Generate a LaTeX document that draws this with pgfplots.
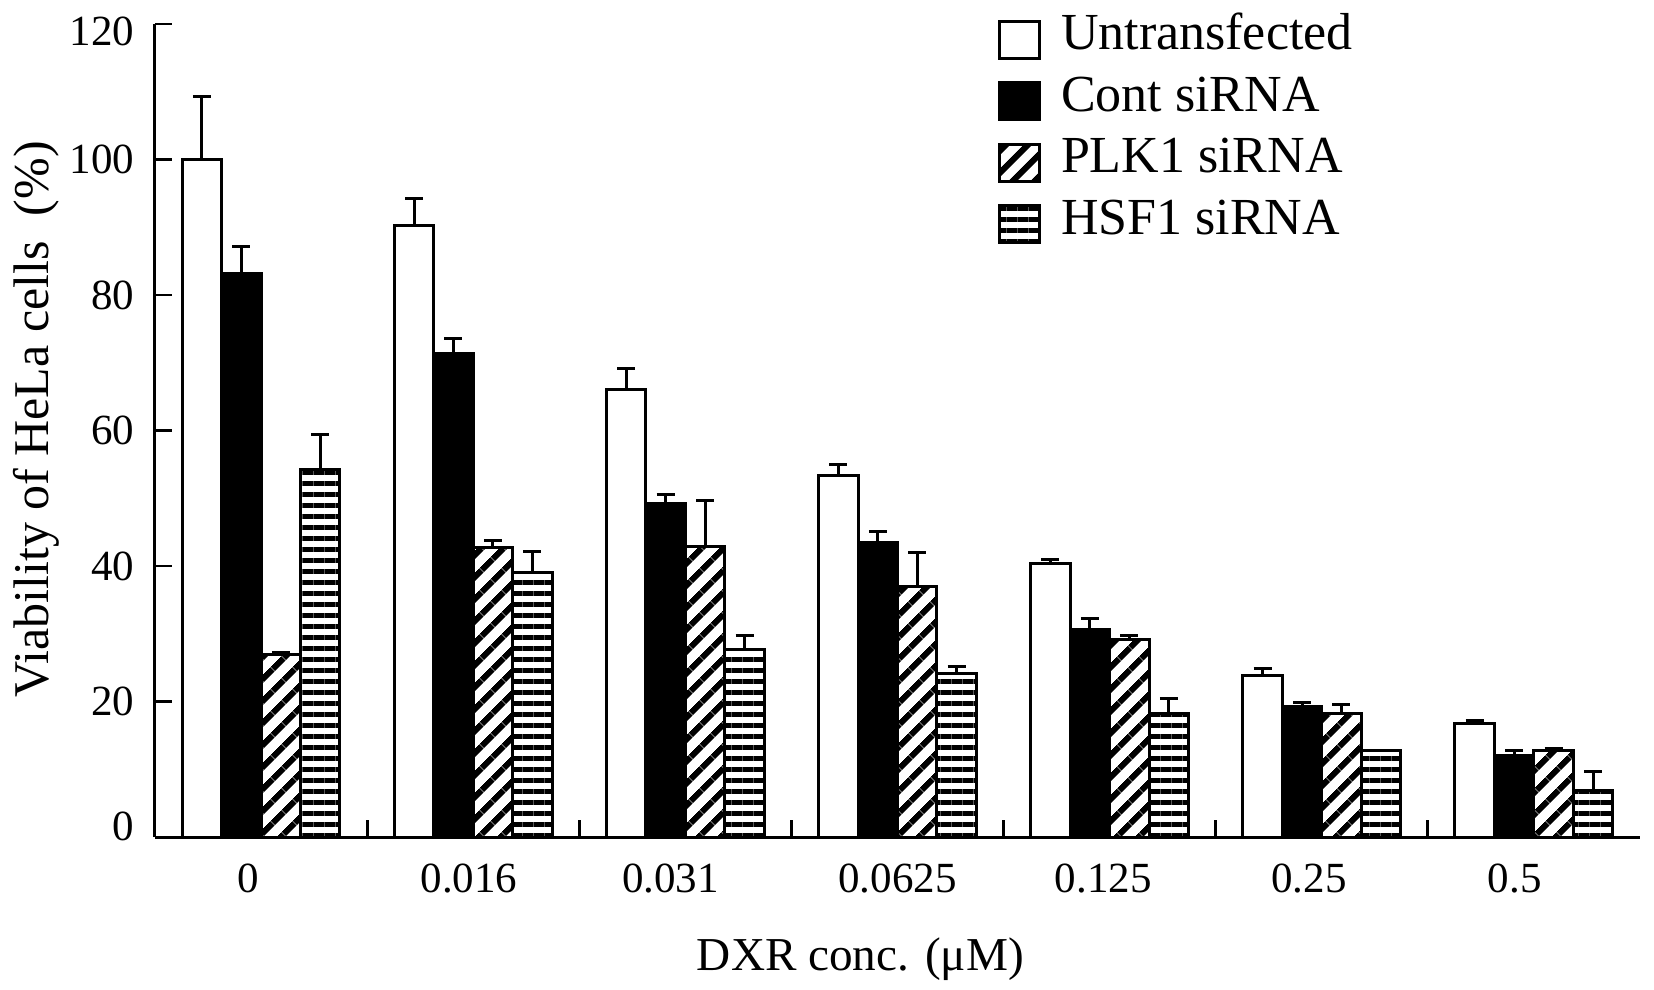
\documentclass[border=0pt]{standalone}
\usepackage{fontspec}
\setmainfont{Liberation Serif}
\usepackage{pgfplots}
\pgfplotsset{compat=1.18}
\usetikzlibrary{patterns.meta}
\begin{document}
\begin{tikzpicture}[x=1pt,y=1pt]
\useasboundingbox (-38.75,-38) rectangle (374.75,209.25);
\begin{axis}[
  at={(0,0)}, anchor=south west,
  scale only axis, width=371.25pt, height=203.25pt,
  xmin=-0.5, xmax=6.5, ymin=0, ymax=120,
  clip=false,
  axis x line=bottom, axis y line=left,
  axis line style={-, line width=0.75pt},
  ytick align=inside,
  xtick align=outside,
  major tick length=4.25pt,
  tick style={line width=0.7pt, black},
  xtick style={yshift=4.25pt},
  ytick={0,20,...,120},
  yticklabels={,20,40,60,80,100,},
  extra y ticks={1.6,118.9},
  extra y tick labels={0,120},
  extra y tick style={major tick length=0pt},
  xtick={0.5,1.5,...,5.5}, xticklabels={},
  extra x ticks={-0.06,0.98,1.93,3.0,3.97,4.94,5.91},
  extra x tick labels={0,0.016,0.031,0.0625,0.125,0.25,0.5},
  extra x tick style={major tick length=0pt},
  /pgf/number format/assume math mode=true,
  ticklabel style={font=\fontsize{10.75}{12}\selectfont},
  yticklabel style={anchor=east, inner sep=0pt, xshift=-5pt},
  xticklabel style={anchor=north, inner sep=0pt, yshift=-6.5pt},
  xlabel={DXR conc. (μM)},
  xlabel style={at={(axis description cs:0.475,-0.1636)}, anchor=base, inner sep=0pt, font=\fontsize{11.8}{14}\selectfont},
  ylabel={Viability of HeLa cells\ \ (\%)},
  ylabel style={at={(axis description cs:-0.072,0.5135)}, anchor=base, inner sep=0pt, font=\fontsize{12.5}{15}\selectfont},
  ybar=0pt, bar width=0.186,
  mylegend/.style={legend image code/.code={\draw[##1, line width=0.75pt] (0pt,-6.725pt) rectangle (10pt,2.525pt);}},
  legend style={at={(axis description cs:0.5677,1.0133)}, anchor=north west, draw=none, fill=none,
    inner sep=0pt, outer sep=0pt, row sep=3.675pt, column sep=5pt,
    font=\fontsize{13}{15}\selectfont,
    nodes={inner sep=0pt, text height=9.2pt, text depth=0pt}},
  legend cell align=left,
  error bars/y dir=plus, error bars/y explicit,
  error bars/error bar style={line width=0.75pt, black},
  error bars/error mark options={rotate=90, line width=0.75pt, mark size=2.25pt, black},
]
\addplot[mylegend, draw=black, line width=0.75pt, fill=white] coordinates {
 (0,100) +- (0,9.3) (1,90.2) +- (0,4.0) (2,66.1) +- (0,3.1) (3,53.3) +- (0,1.7)
 (4,40.3) +- (0,0.6) (5,23.9) +- (0,0.9) (6,16.8) +- (0,0.4)};
\addplot[mylegend, draw=black, line width=0.75pt, fill=black] coordinates {
 (0,83.2) +- (0,3.9) (1,71.3) +- (0,2.3) (2,49.3) +- (0,1.2) (3,43.4) +- (0,1.7)
 (4,30.7) +- (0,1.6) (5,19.2) +- (0,0.7) (6,12.0) +- (0,0.7)};
\addplot[mylegend, draw=black, line width=0.75pt, pattern={Lines[angle=45,distance=4pt,line width=1.6pt]}, pattern color=black] coordinates {
 (0,26.9) +- (0,0.4) (1,42.7) +- (0,1.1) (2,42.9) +- (0,6.8) (3,37.0) +- (0,5.0)
 (4,29.1) +- (0,0.7) (5,18.3) +- (0,1.2) (6,12.8) +- (0,0.3)};
\addplot[mylegend, draw=black, line width=0.75pt, pattern={Lines[angle=0,distance=2.75pt,line width=1.25pt]}, pattern color=black] coordinates {
 (0,54.3) +- (0,5.1) (1,39.0) +- (0,3.1) (2,27.7) +- (0,2.0) (3,24.1) +- (0,1.1)
 (4,18.3) +- (0,2.1) (5,12.8) +- (0,0.0) (6,6.9) +- (0,2.7)};
\legend{Untransfected, Cont siRNA, PLK1 siRNA, HSF1 siRNA}
\end{axis}
\end{tikzpicture}
\end{document}
